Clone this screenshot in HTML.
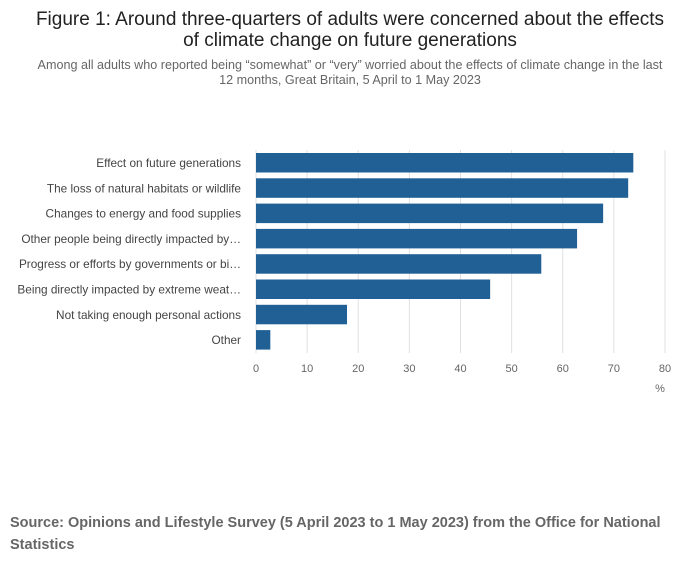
<!DOCTYPE html>
<html><head><meta charset="utf-8"><style>
body{margin:0;background:#fff;font-family:"Liberation Sans",sans-serif;}
#c{position:relative;width:700px;height:574px;overflow:hidden}
</style></head><body>
<div id="c">
<svg id="s" width="700" height="574">
<text x="350" y="25" text-anchor="middle" font-size="19" fill="#222">Figure 1: Around three-quarters of adults were concerned about the effects</text>
<text x="350" y="46" text-anchor="middle" font-size="19" fill="#222">of climate change on future generations</text>
<text x="350" y="69" text-anchor="middle" font-size="12.6" fill="#666">Among all adults who reported being “somewhat” or “very” worried about the effects of climate change in the last</text>
<text x="350" y="84" text-anchor="middle" font-size="12.6" fill="#666">12 months, Great Britain, 5 April to 1 May 2023</text>
<g id="grid"></g><g id="bars"></g><g id="labels"></g><g id="ticks"></g>
<text x="660" y="392" text-anchor="middle" font-size="11" fill="#666">%</text>
<text x="10" y="527" font-size="14.5" font-weight="bold" fill="#666">Source: Opinions and Lifestyle Survey (5 April 2023 to 1 May 2023) from the Office for National</text>
<text x="10" y="549" font-size="14.5" font-weight="bold" fill="#666">Statistics</text>
</svg></div>
<script>
const categories=["Effect on future generations","The loss of natural habitats or wildlife","Changes to energy and food supplies","Other people being directly impacted by…","Progress or efforts by governments or bi…","Being directly impacted by extreme weat…","Not taking enough personal actions","Other"];
const values=[73.8,72.8,67.9,62.8,55.8,45.8,17.8,2.8];
const tickValues=[0,10,20,30,40,50,60,70,80];
const NS="http://www.w3.org/2000/svg";
const x=v=>256+v*(665-256)/80;
const y=i=>150+i*25.3;
function mk(t,a,p){const e=document.createElementNS(NS,t);for(const k in a)e.setAttribute(k,a[k]);document.getElementById(p).appendChild(e);return e;}
tickValues.forEach(v=>{
 const l=mk('line',{x1:x(v),x2:x(v),y1:150,y2:353,stroke:'#e0e0e0'},'grid');
 
 
 const t=mk('text',{x:x(v),y:372,'text-anchor':'middle','font-size':11,fill:'#666'},'ticks');
 t.textContent=v;
 
 
});
categories.forEach((c,i)=>{
 const r=mk('rect',{x:x(0),y:y(i)+3,width:x(values[i])-x(0),height:19.5,fill:'#206095'},'bars');
 
 
 const t=mk('text',{x:241,y:y(i)+17,'text-anchor':'end','font-size':11.8,fill:'#444'},'labels');
 t.textContent=c;
 
 
});
</script>
</body></html>
